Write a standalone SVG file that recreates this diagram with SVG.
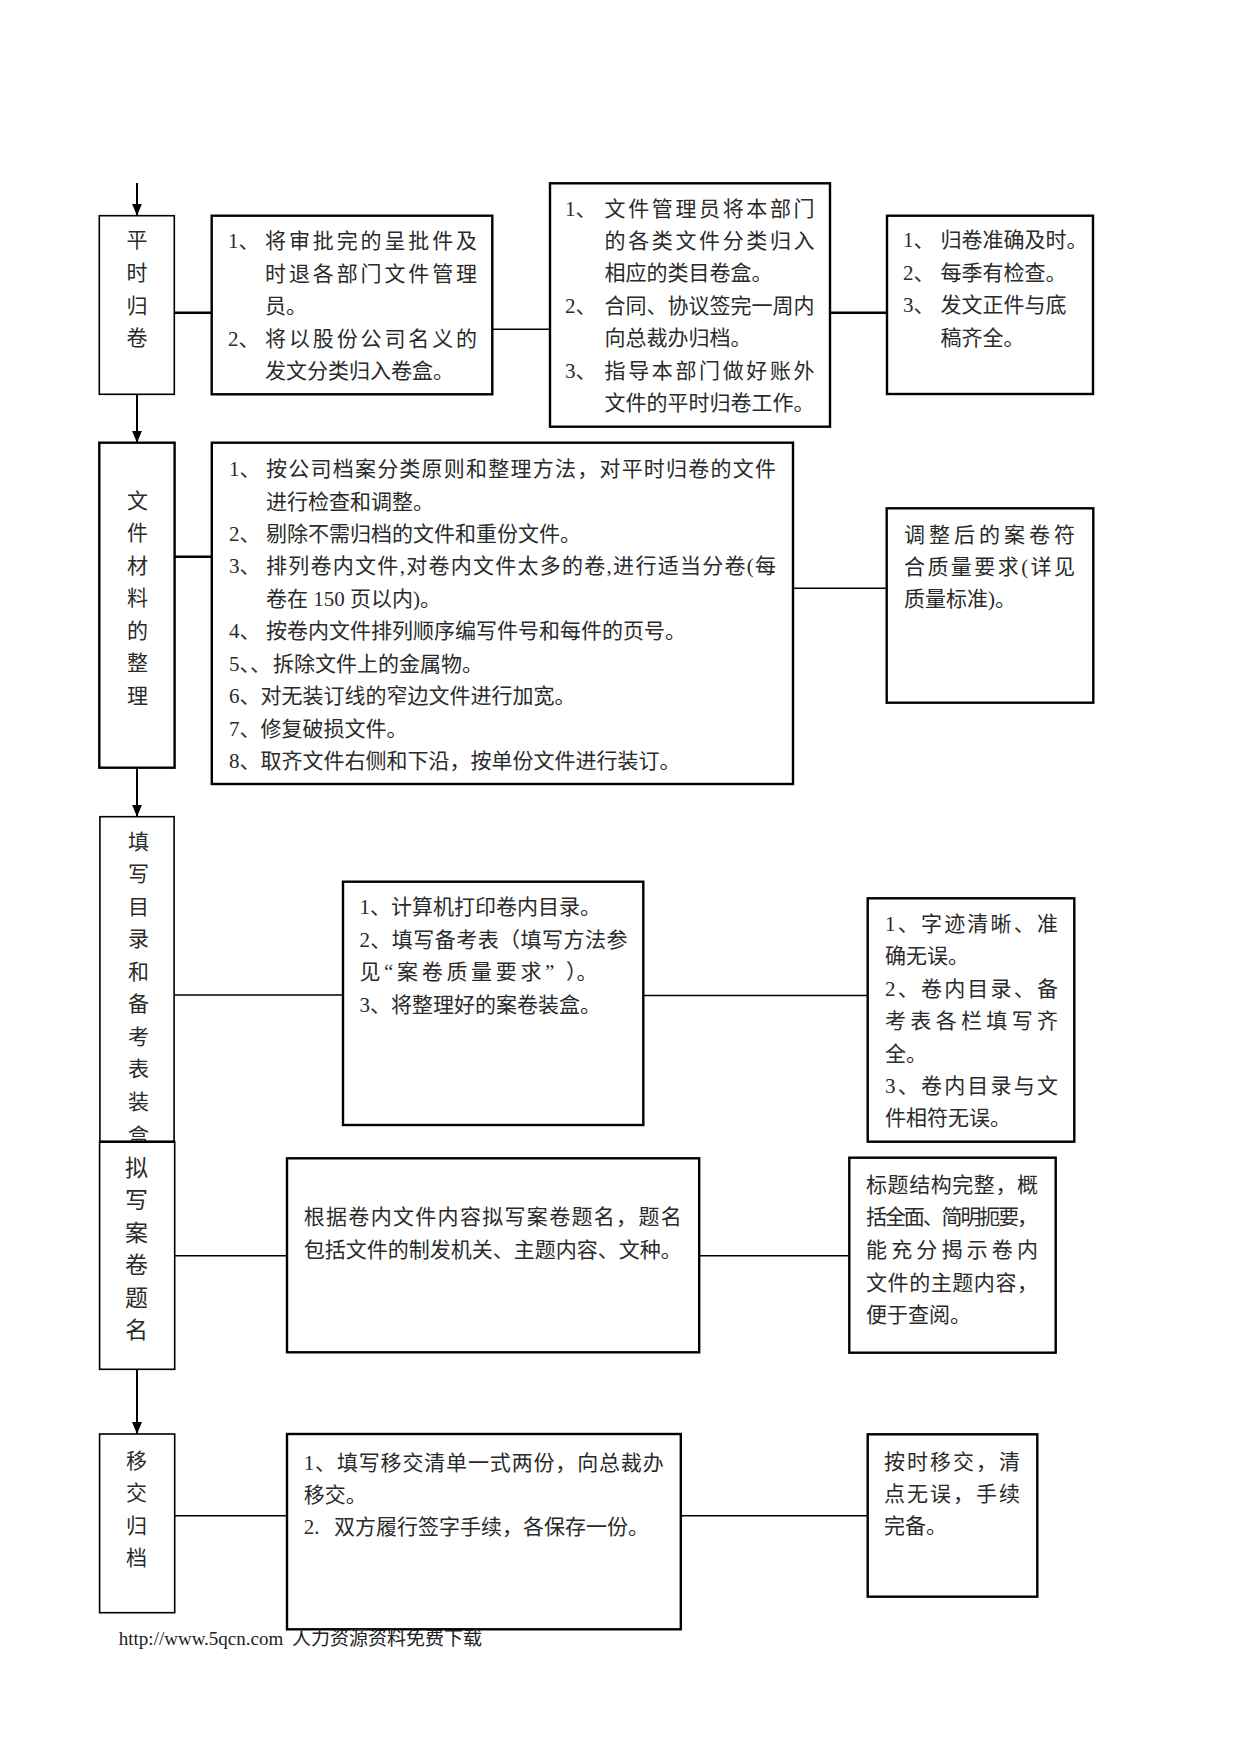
<svg xmlns="http://www.w3.org/2000/svg" width="1241" height="1754" viewBox="0 0 1241 1754">
<style>
.bx{fill:#fff;stroke:#000}
.k{stroke-width:2.4}
.n{stroke-width:1.6}
.ln{stroke:#000;fill:none}
.t{font-family:'Liberation Serif','Noto Sans CJK SC',serif;font-size:21px;fill:#2a2a2a}
.v{text-anchor:middle}
.big{font-size:23px}
.ft{font-family:'Liberation Serif','Noto Sans CJK SC',serif;font-size:19px;fill:#222}
</style>
<defs>
<marker id="ah" markerUnits="userSpaceOnUse" markerWidth="12" markerHeight="10" refX="12" refY="5" orient="auto" viewBox="0 0 12 10">
<path d="M0,0 L12,5 L0,10 z" fill="#000"/>
</marker>
</defs>
<rect width="1241" height="1754" fill="#fff"/>

<g id="connectors">
<line class="ln" x1="137" y1="183" x2="137" y2="215.7" stroke-width="2" marker-end="url(#ah)"/>
<line class="ln" x1="137" y1="394.3" x2="137" y2="442.7" stroke-width="2" marker-end="url(#ah)"/>
<line class="ln" x1="137" y1="767.7" x2="137" y2="816.7" stroke-width="2" marker-end="url(#ah)"/>
<line class="ln" x1="137" y1="1369.3" x2="137" y2="1434" stroke-width="2" marker-end="url(#ah)"/>
<line class="ln" x1="174.3" y1="312.7" x2="211.7" y2="312.7" stroke-width="2.4"/>
<line class="ln" x1="492.3" y1="329.3" x2="550" y2="329.3" stroke-width="1.6"/>
<line class="ln" x1="830" y1="312.7" x2="887" y2="312.7" stroke-width="2.4"/>
<line class="ln" x1="174.6" y1="556.7" x2="211.8" y2="556.7" stroke-width="2.4"/>
<line class="ln" x1="793" y1="588.3" x2="886.7" y2="588.3" stroke-width="1.6"/>
<line class="ln" x1="174" y1="995" x2="343" y2="995" stroke-width="1.6"/>
<line class="ln" x1="643.3" y1="995.5" x2="867.7" y2="995.5" stroke-width="1.6"/>
<line class="ln" x1="174.7" y1="1255.7" x2="287" y2="1255.7" stroke-width="1.6"/>
<line class="ln" x1="699.2" y1="1255.7" x2="849.3" y2="1255.7" stroke-width="1.6"/>
<line class="ln" x1="174.7" y1="1515.7" x2="287" y2="1515.7" stroke-width="1.6"/>
<line class="ln" x1="680.8" y1="1515.7" x2="867.7" y2="1515.7" stroke-width="1.6"/>
</g>

<g id="n1">
<rect class="bx n" x="99.3" y="215.7" width="75" height="178.6"/>
<text class="t v" x="137" y="247">平</text>
<text class="t v" x="137" y="279.5">时</text>
<text class="t v" x="137" y="312.5">归</text>
<text class="t v" x="137" y="345">卷</text>
</g>

<g id="n2">
<rect class="bx k" x="211.7" y="215.7" width="280.6" height="178.6"/>
<text class="t" x="228" y="248">1、</text>
<text class="t" x="265" y="248" textLength="212" lengthAdjust="spacing">将审批完的呈批件及</text>
<text class="t" x="265" y="280.5" textLength="212" lengthAdjust="spacing">时退各部门文件管理</text>
<text class="t" x="265" y="313">员。</text>
<text class="t" x="228" y="345.5">2、</text>
<text class="t" x="265" y="345.5" textLength="212" lengthAdjust="spacing">将以股份公司名义的</text>
<text class="t" x="265" y="378">发文分类归入卷盒。</text>
</g>

<g id="n3">
<rect class="bx k" x="550" y="183.3" width="280" height="243.4"/>
<text class="t" x="565" y="215.5">1、</text>
<text class="t" x="604.6" y="215.5" textLength="210" lengthAdjust="spacing">文件管理员将本部门</text>
<text class="t" x="604.6" y="248" textLength="210" lengthAdjust="spacing">的各类文件分类归入</text>
<text class="t" x="604.6" y="280">相应的类目卷盒。</text>
<text class="t" x="565" y="312.5">2、</text>
<text class="t" x="604.6" y="312.5" textLength="210" lengthAdjust="spacing">合同、协议签完一周内</text>
<text class="t" x="604.6" y="345">向总裁办归档。</text>
<text class="t" x="565" y="377.5">3、</text>
<text class="t" x="604.6" y="377.5" textLength="210" lengthAdjust="spacing">指导本部门做好账外</text>
<text class="t" x="604.6" y="410">文件的平时归卷工作。</text>
</g>

<g id="n4">
<rect class="bx k" x="887" y="215.7" width="206" height="178.3"/>
<text class="t" x="903" y="247">1、</text>
<text class="t" x="940.6" y="247">归卷准确及时。</text>
<text class="t" x="903" y="279.5">2、</text>
<text class="t" x="940.6" y="279.5">每季有检查。</text>
<text class="t" x="903" y="312">3、</text>
<text class="t" x="940.6" y="312">发文正件与底</text>
<text class="t" x="940.6" y="344.5">稿齐全。</text>
</g>

<g id="n5">
<rect class="bx k" x="99.3" y="442.7" width="75.3" height="325"/>
<text class="t v" x="137.4" y="508">文</text>
<text class="t v" x="137.4" y="540">件</text>
<text class="t v" x="137.4" y="572.5">材</text>
<text class="t v" x="137.4" y="605">料</text>
<text class="t v" x="137.4" y="637.5">的</text>
<text class="t v" x="137.4" y="670">整</text>
<text class="t v" x="137.4" y="702.5">理</text>
</g>

<g id="n6">
<rect class="bx k" x="211.8" y="442.7" width="581.2" height="341.3"/>
<text class="t" x="229" y="476">1、</text>
<text class="t" x="266" y="476" textLength="510" lengthAdjust="spacing">按公司档案分类原则和整理方法，对平时归卷的文件</text>
<text class="t" x="266" y="508.5">进行检查和调整。</text>
<text class="t" x="229" y="540.5">2、</text>
<text class="t" x="266" y="540.5">剔除不需归档的文件和重份文件。</text>
<text class="t" x="229" y="573">3、</text>
<text class="t" x="266" y="573" textLength="510" lengthAdjust="spacing">排列卷内文件,对卷内文件太多的卷,进行适当分卷(每</text>
<text class="t" x="266" y="605.5">卷在 150 页以内)。</text>
<text class="t" x="229" y="638">4、</text>
<text class="t" x="266" y="638">按卷内文件排列顺序编写件号和每件的页号。</text>
<text class="t" x="229" y="670.5">5、、</text>
<text class="t" x="273" y="670.5">拆除文件上的金属物。</text>
<text class="t" x="229" y="703">6、对无装订线的窄边文件进行加宽。</text>
<text class="t" x="229" y="735.5">7、修复破损文件。</text>
<text class="t" x="229" y="768">8、取齐文件右侧和下沿，按单份文件进行装订。</text>
</g>

<g id="n7">
<rect class="bx k" x="886.7" y="508.3" width="206.6" height="194.4"/>
<text class="t" x="904" y="541.5" textLength="171" lengthAdjust="spacing">调整后的案卷符</text>
<text class="t" x="904" y="574" textLength="171" lengthAdjust="spacing">合质量要求(详见</text>
<text class="t" x="904" y="606">质量标准)。</text>
</g>

<g id="n8">
<rect class="bx n" x="99.9" y="816.7" width="74.2" height="325"/>
<text class="t v" x="138.5" y="849">填</text>
<text class="t v" x="138.5" y="881">写</text>
<text class="t v" x="138.5" y="913.5">目</text>
<text class="t v" x="138.5" y="946">录</text>
<text class="t v" x="138.5" y="978.5">和</text>
<text class="t v" x="138.5" y="1011">备</text>
<text class="t v" x="138.5" y="1043.5">考</text>
<text class="t v" x="138.5" y="1076">表</text>
<text class="t v" x="138.5" y="1108.5">装</text>
<text class="t v" x="138.5" y="1142.5">盒</text>
</g>

<g id="n10">
<rect class="bx k" x="343" y="881.7" width="300.3" height="243.3"/>
<text class="t" x="359.4" y="914">1、计算机打印卷内目录。</text>
<text class="t" x="359.4" y="946.5" textLength="268" lengthAdjust="spacing">2、填写备考表（填写方法参</text>
<text class="t" x="359.4" y="979" textLength="195" lengthAdjust="spacing">见“案卷质量要求”</text>
<text class="t" x="566" y="979">）。</text>
<text class="t" x="359.4" y="1011.5">3、将整理好的案卷装盒。</text>
</g>

<g id="n11">
<rect class="bx k" x="867.7" y="898.3" width="206.6" height="243.4"/>
<text class="t" x="885" y="930.5" textLength="173" lengthAdjust="spacing">1、字迹清晰、准</text>
<text class="t" x="885" y="963">确无误。</text>
<text class="t" x="885" y="995.5" textLength="173" lengthAdjust="spacing">2、卷内目录、备</text>
<text class="t" x="885" y="1028" textLength="173" lengthAdjust="spacing">考表各栏填写齐</text>
<text class="t" x="885" y="1060.5">全。</text>
<text class="t" x="885" y="1093" textLength="173" lengthAdjust="spacing">3、卷内目录与文</text>
<text class="t" x="885" y="1125">件相符无误。</text>
</g>

<g id="n9">
<rect class="bx n" x="99.6" y="1141.7" width="75.1" height="227.6"/>
<line x1="99.6" y1="1141.7" x2="174.7" y2="1141.7" stroke="#000" stroke-width="2.4"/>
<text class="t v big" x="136.5" y="1176">拟</text>
<text class="t v big" x="136.5" y="1208">写</text>
<text class="t v big" x="136.5" y="1240.5">案</text>
<text class="t v big" x="136.5" y="1273">卷</text>
<text class="t v big" x="136.5" y="1305.5">题</text>
<text class="t v big" x="136.5" y="1338">名</text>
</g>

<g id="n12">
<rect class="bx k" x="287" y="1158.3" width="412.2" height="194"/>
<text class="t" x="303.7" y="1223.5" textLength="378" lengthAdjust="spacing">根据卷内文件内容拟写案卷题名，题名</text>
<text class="t" x="303.7" y="1256.5" textLength="378" lengthAdjust="spacing">包括文件的制发机关、主题内容、文种。</text>
</g>

<g id="n13">
<rect class="bx k" x="849.3" y="1157.7" width="206.4" height="195"/>
<text class="t" x="866" y="1191.5" textLength="172" lengthAdjust="spacing">标题结构完整，概</text>
<text class="t" x="866" y="1224" textLength="172" lengthAdjust="spacing">括全面、简明扼要，</text>
<text class="t" x="866" y="1257" textLength="172" lengthAdjust="spacing">能充分揭示卷内</text>
<text class="t" x="866" y="1289.5" textLength="172" lengthAdjust="spacing">文件的主题内容，</text>
<text class="t" x="866" y="1322">便于查阅。</text>
</g>

<g id="n14">
<rect class="bx n" x="99.6" y="1434" width="75.1" height="178.7"/>
<text class="t v" x="136.5" y="1467.5">移</text>
<text class="t v" x="136.5" y="1500">交</text>
<text class="t v" x="136.5" y="1532.5">归</text>
<text class="t v" x="136.5" y="1565">档</text>
</g>

<g id="n15">
<rect class="bx k" x="287" y="1434" width="393.8" height="195.3"/>
<text class="t" x="303.7" y="1470" textLength="360" lengthAdjust="spacing">1、填写移交清单一式两份，向总裁办</text>
<text class="t" x="303.7" y="1502">移交。</text>
<text class="t" x="303.7" y="1534">2.</text>
<text class="t" x="334" y="1534">双方履行签字手续，各保存一份。</text>
</g>

<g id="n16">
<rect class="bx k" x="867.7" y="1434.3" width="169.6" height="162.4"/>
<text class="t" x="884" y="1468.5" textLength="136" lengthAdjust="spacing">按时移交，清</text>
<text class="t" x="884" y="1500.5" textLength="136" lengthAdjust="spacing">点无误，手续</text>
<text class="t" x="884" y="1533">完备。</text>
</g>

<g id="footer">
<text class="ft" x="118.8" y="1645">http://www.5qcn.com</text>
<text class="ft" x="292" y="1645">人力资源资料免费下载</text>
</g>
</svg>
